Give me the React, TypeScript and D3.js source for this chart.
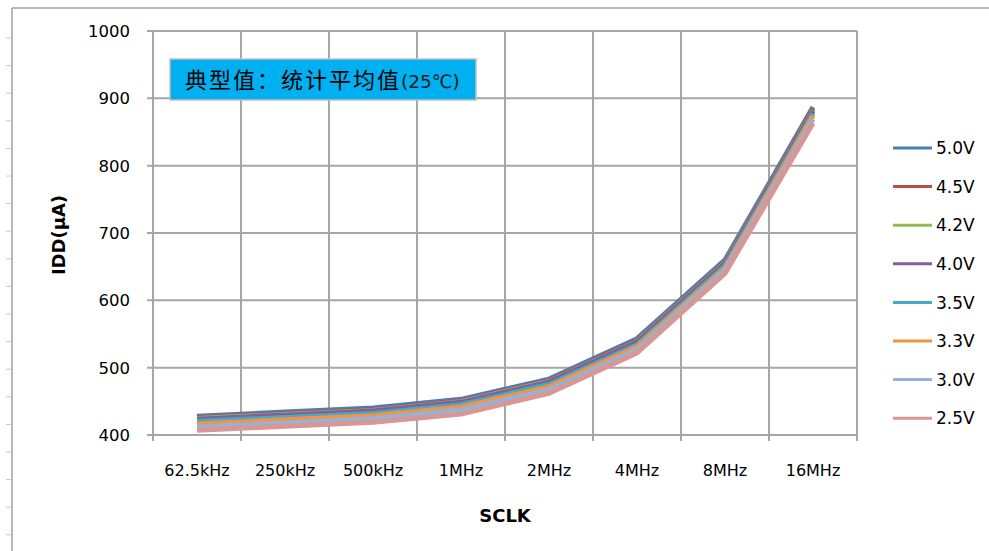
import React from 'react';
import * as d3 from 'd3';

const categories = ['62.5kHz', '250kHz', '500kHz', '1MHz', '2MHz', '4MHz', '8MHz', '16MHz'];
const seriesNames = ['5.0V', '4.5V', '4.2V', '4.0V', '3.5V', '3.3V', '3.0V', '2.5V'];
const v50 = [428, 434, 440, 453, 483, 543, 660, 887];
const v45 = [425.5, 431.5, 437.5, 450.5, 480.5, 540, 657, 884];
const v42 = [424.5, 430.5, 436.5, 449.5, 479.5, 539, 656, 882];
const v40 = [423.5, 429.5, 435.5, 448.5, 478.5, 538, 655, 881];
const v35 = [420, 426, 432, 445, 475, 534, 651, 877];
const v33 = [416.5, 422.5, 428.5, 441.5, 471.5, 531, 648, 874];
const v30 = [412, 418, 424, 437, 467, 527, 645, 869];
const v25 = [407, 413, 419, 431, 462, 522, 640, 863];
const yTicks = [400, 500, 600, 700, 800, 900, 1000];
const colors = ['#4A7EBB', '#BE4B48', '#98B954', '#7D60A0', '#46AAC5', '#F69240', '#95B3D7', '#DA9694'];

const seriesValues = [v50, v45, v42, v40, v35, v33, v30, v25];

export default function App() {
  const W = 989, H = 551;
  const x = d3.scaleBand<string>().domain(categories).range([153, 857]).paddingInner(0).paddingOuter(0);
  const y = d3.scaleLinear().domain([400, 1000]).range([435, 31]);
  const line = d3.line<number>()
    .x((_, i) => (x(categories[i]) as number) + x.bandwidth() / 2)
    .y((d) => y(d));
  const grid = '#A6A6A6';
  const font = '"DejaVu Sans", Verdana, sans-serif';
  const boundaries = categories.map((c) => x(c) as number).concat([857]);
  const leftTicks = d3.range(0, 19).map((i) => 38 + i * 27.6);

  return (
    <svg width={W} height={H} style={{ position: 'absolute', left: 0, top: 0, background: '#fff' }}>
      <rect x={0} y={0} width={W} height={H} fill="#fff" />
      {/* outer chart border */}
      <line x1={12} y1={8} x2={W} y2={8} stroke="#A0A0A0" strokeWidth={1.5} />
      <line x1={12} y1={8} x2={12} y2={H} stroke="#A0A0A0" strokeWidth={1.5} />
      {leftTicks.map((t, i) => (
        <line key={'lt' + i} x1={6} x2={11} y1={t} y2={t} stroke="#C8C8C8" strokeWidth={1} />
      ))}
      {/* horizontal gridlines */}
      {yTicks.map((t) => (
        <g key={'y' + t}>
          <line x1={147} x2={857} y1={y(t)} y2={y(t)} stroke={grid} strokeWidth={2} />
          <text x={130} y={y(t)} dy="0.36em" textAnchor="end" fontFamily={font} fontSize={16.5} fill="#000">{t}</text>
        </g>
      ))}
      {/* vertical gridlines */}
      {boundaries.map((b, i) => (
        <line key={'v' + i} x1={b} x2={b} y1={y(1000)} y2={y(400) + 6} stroke={grid} strokeWidth={2} />
      ))}
      {/* x tick labels */}
      {categories.map((c) => (
        <text key={c} x={(x(c) as number) + x.bandwidth() / 2} y={476} textAnchor="middle" fontFamily={font} fontSize={16} fill="#000">{c}</text>
      ))}
      {/* series lines */}
      {seriesValues.map((vals, i) => (
        <path key={seriesNames[i]} d={line(vals) || ''} fill="none" stroke={colors[i]} strokeWidth={5} strokeLinejoin="round" strokeLinecap="butt" />
      ))}
      {/* title box */}
      <rect x={170} y={59} width={306} height={41} fill="#00B0F0" stroke="#BFBFBF" strokeWidth={1.5} />
      <text x={185} y={88} fontFamily={'"Noto Sans CJK SC", sans-serif'} fontSize={22} letterSpacing={2} fill="#000">
        典型值：统计平均值<tspan fontFamily={font} fontSize={18.5} letterSpacing={0} fill="#1a1a1a">(25℃)</tspan>
      </text>
      {/* axis titles */}
      <text transform="translate(65,235) rotate(-90)" textAnchor="middle" fontFamily={font} fontWeight="bold" fontSize={18} fill="#000">IDD(μA)</text>
      <text x={505} y={522} textAnchor="middle" fontFamily={font} fontWeight="bold" fontSize={18} fill="#000">SCLK</text>
      {/* legend */}
      {seriesNames.map((n, i) => {
        const ly = 148 + i * 38.6;
        return (
          <g key={'lg' + n}>
            <line x1={893} x2={932} y1={ly} y2={ly} stroke={colors[i]} strokeWidth={3} />
            <text x={936} y={ly} dy="0.36em" fontFamily={font} fontSize={17} fill="#000">{n}</text>
          </g>
        );
      })}
    </svg>
  );
}
